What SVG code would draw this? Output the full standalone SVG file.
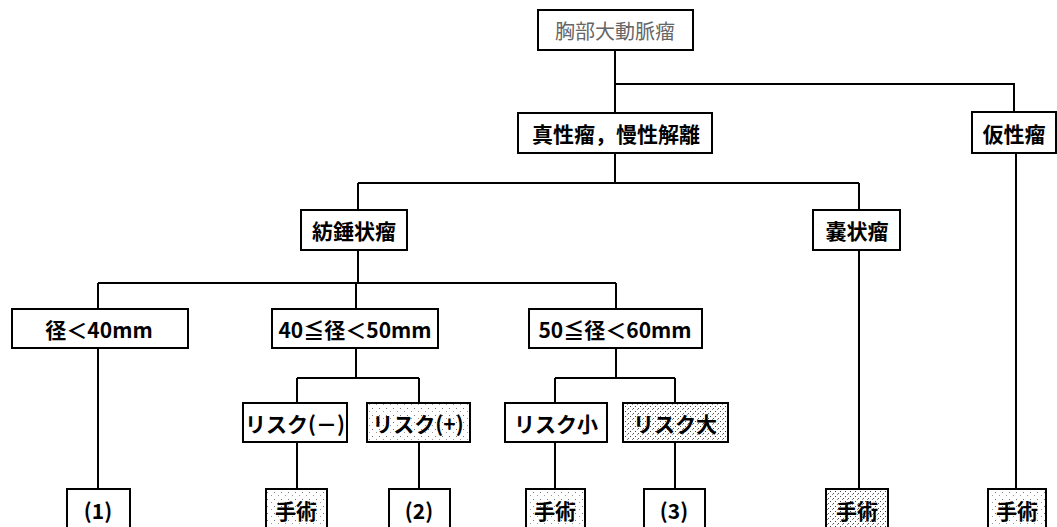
<svg xmlns="http://www.w3.org/2000/svg" width="1057" height="527" viewBox="0 0 1057 527">
<style>
.box{fill:#fff;stroke:#000;stroke-width:2}
.lt{fill:url(#dotsL);stroke:#000;stroke-width:2}
.dk{fill:url(#dotsD);stroke:#000;stroke-width:2}
.t{font-family:"Noto Sans CJK JP","Noto Sans",sans-serif;font-size:21px;font-weight:bold;text-anchor:middle;dominant-baseline:central;fill:#000}
.title{fill:#666;font-weight:normal;font-size:20px}
.c{fill:none;stroke:#000;stroke-width:2}
</style>
<defs>
<pattern id="dotsL" width="7" height="7" patternUnits="userSpaceOnUse">
<rect width="7" height="7" fill="#fff"/>
<rect x="1" y="2" width="1" height="1" fill="#777"/>
<rect x="5" y="5" width="1" height="1" fill="#999"/>
</pattern>
<pattern id="dotsD" width="5" height="5" patternUnits="userSpaceOnUse">
<rect width="5" height="5" fill="#fff"/>
<rect x="0" y="1" width="1" height="1" fill="#444"/>
<rect x="3" y="3" width="1" height="1" fill="#555"/>
<rect x="2" y="4" width="1" height="1" fill="#888"/>
</pattern>
</defs>
<g id="connectors">
<path class="c" d="M615 50V113"/>
<path class="c" d="M615 84H1014V112"/>
<path class="c" d="M615 153V183"/>
<path class="c" d="M358 183H859"/>
<path class="c" d="M358 183V210"/>
<path class="c" d="M859 183V210"/>
<path class="c" d="M358 250V283"/>
<path class="c" d="M98 283H616"/>
<path class="c" d="M98 283V309"/>
<path class="c" d="M356 283V309"/>
<path class="c" d="M616 283V309"/>
<path class="c" d="M98 348V489"/>
<path class="c" d="M356 348V378"/>
<path class="c" d="M297 378H419"/>
<path class="c" d="M297 378V403"/>
<path class="c" d="M419 378V403"/>
<path class="c" d="M616 348V378"/>
<path class="c" d="M555 378H675"/>
<path class="c" d="M555 378V403"/>
<path class="c" d="M675 378V403"/>
<path class="c" d="M297 442V489"/>
<path class="c" d="M419 442V489"/>
<path class="c" d="M555 442V489"/>
<path class="c" d="M675 442V489"/>
<path class="c" d="M859 250V489"/>
<path class="c" d="M1016 153V489"/>
</g>
<g id="n-root"><rect class="box" x="538" y="10" width="155" height="40"/><text class="t title" x="615" y="30">胸部大動脈瘤</text></g>
<g id="n-true"><rect class="box" x="518" y="113" width="194" height="40"/><text class="t" x="616" y="133">真性瘤，慢性解離</text></g>
<g id="n-pseudo"><rect class="box" x="972" y="112" width="84" height="41"/><text class="t" x="1014" y="133">仮性瘤</text></g>
<g id="n-fusiform"><rect class="box" x="301" y="210" width="106" height="40"/><text class="t" x="354" y="230">紡錘状瘤</text></g>
<g id="n-saccular"><rect class="box" x="813" y="210" width="87" height="40"/><text class="t" x="857" y="230">嚢状瘤</text></g>
<g id="n-d40"><rect class="box" x="12" y="309" width="176" height="39"/><text class="t" x="99" y="329">径＜40mm</text></g>
<g id="n-d4050"><rect class="box" x="272" y="309" width="166" height="39"/><text class="t" x="355" y="329">40≦径＜50mm</text></g>
<g id="n-d5060"><rect class="box" x="529" y="309" width="173" height="39"/><text class="t" x="615" y="329">50≦径＜60mm</text></g>
<g id="n-rneg"><rect class="box" x="243" y="403" width="104" height="39"/><text class="t" x="295" y="423">リスク(－)</text></g>
<g id="n-rpos"><rect class="lt" x="367" y="403" width="103" height="39"/><text class="t" x="418" y="423">リスク(+)</text></g>
<g id="n-rsmall"><rect class="box" x="505" y="403" width="102" height="39"/><text class="t" x="556" y="423">リスク小</text></g>
<g id="n-rlarge"><rect class="dk" x="623" y="403" width="105" height="39"/><text class="t" x="675" y="423">リスク大</text></g>
<g id="n-1"><rect class="box" x="67" y="489" width="63" height="42"/><text class="t" x="98" y="510">(1)</text></g>
<g id="n-op1"><rect class="lt" x="266" y="489" width="61" height="42"/><text class="t" x="296" y="510">手術</text></g>
<g id="n-2"><rect class="box" x="389" y="489" width="61" height="42"/><text class="t" x="419" y="510">(2)</text></g>
<g id="n-op2"><rect class="lt" x="526" y="489" width="59" height="42"/><text class="t" x="555" y="510">手術</text></g>
<g id="n-3"><rect class="box" x="644" y="489" width="61" height="42"/><text class="t" x="674" y="510">(3)</text></g>
<g id="n-op3"><rect class="dk" x="826" y="489" width="62" height="42"/><text class="t" x="857" y="510">手術</text></g>
<g id="n-op4"><rect class="lt" x="988" y="489" width="58" height="42"/><text class="t" x="1017" y="510">手術</text></g>
</svg>
